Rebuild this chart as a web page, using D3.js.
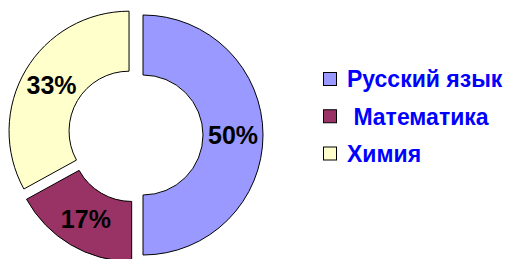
<!DOCTYPE html>
<html>
<head>
<meta charset="utf-8">
<script src="https://cdn.jsdelivr.net/npm/d3@7"></script>
<style>
  html, body { margin: 0; padding: 0; background: #fff; }
  svg { display: block; font-family: 'Liberation Sans', Arial, sans-serif; }
</style>
</head>
<body>
<svg width="508" height="259"></svg>
<script>
var subjects = ['Русский язык', 'Математика', 'Химия'],
  shares = [50, 17, 33],
  labels = ['50%', '17%', '33%'],
  legendNames = ['Русский язык', ' Математика', 'Химия'],
  colors = ['#9999FF', '#993366', '#FFFFCC'];

var svg = d3.select('svg'),
  center = { x: 135.5, y: 135 },
  outerR = 120,
  innerR = 60,
  explode = 7.5;

var data = subjects.map((s, i) => ({ name: s, value: shares[i], label: labels[i] }));

var pie = d3.pie().sort(null).value((d) => d.value),
  arc = d3.arc().innerRadius(innerR).outerRadius(outerR);

var arcs = pie(data);

// shift each slice out along its middle angle
var offset = (d) => {
  var a = (d.startAngle + d.endAngle) / 2;
  return [Math.sin(a) * explode, -Math.cos(a) * explode];
};

var g = svg
  .append('g')
  .attr('transform', `translate(${center.x}, ${center.y})`);

var slices = g
  .selectAll('g.slice')
  .data(arcs)
  .enter()
  .append('g')
  .attr('class', 'slice')
  .attr('transform', (d) => 'translate(' + offset(d).join(',') + ')');

slices
  .append('path')
  .attr('d', arc)
  .attr('fill', (d, i) => colors[i])
  .attr('stroke', '#000')
  .attr('stroke-width', 1);

slices
  .append('text')
  .attr('transform', (d) => 'translate(' + arc.centroid(d).join(',') + ')')
  .attr('text-anchor', 'middle')
  .attr('dy', '0.36em')
  .attr('font-size', 25)
  .attr('font-weight', 'bold')
  .attr('fill', '#000')
  .text((d) => d.data.label);

// legend
var legendY = d3.scalePoint().domain(d3.range(subjects.length)).range([79, 153.5]);

var legend = svg
  .append('g')
  .selectAll('g')
  .data(legendNames)
  .enter()
  .append('g')
  .attr('transform', (d, i) => `translate(323, ${legendY(i)})`);

legend
  .append('rect')
  .attr('x', 0.5)
  .attr('y', -6.5)
  .attr('width', 13)
  .attr('height', 13)
  .attr('fill', (d, i) => colors[i])
  .attr('stroke', '#000');

legend
  .append('text')
  .attr('x', 24)
  .attr('dy', '0.36em')
  .attr('font-size', 23)
  .attr('font-weight', 'bold')
  .attr('fill', '#0000FF')
  .style('white-space', 'pre')
  .text((d) => d);
</script>
</body>
</html>
